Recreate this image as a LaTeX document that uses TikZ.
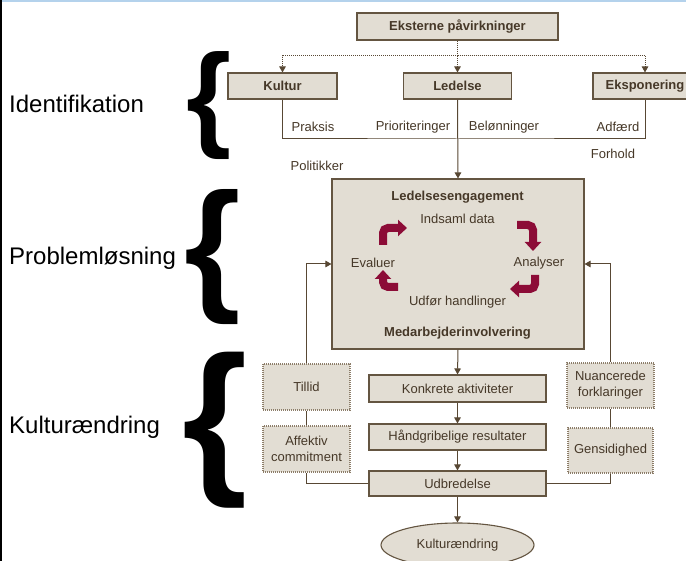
\documentclass[tikz,border=0pt]{standalone}
\usepackage{fontspec}
\usepackage{graphicx}
\setmainfont{Liberation Sans}
\usetikzlibrary{arrows.meta,shapes.geometric}
\definecolor{boxfill}{RGB}{226,221,211}
\definecolor{bordercol}{RGB}{100,85,65}
\definecolor{linecol}{RGB}{88,72,52}
\definecolor{txtcol}{RGB}{70,56,40}
\definecolor{dotcol}{RGB}{140,125,105}
\definecolor{redcol}{RGB}{140,12,55}
\definecolor{topblue}{RGB}{180,210,236}
\begin{document}
\begin{tikzpicture}[x=1pt,y=-1pt,
  bx/.style={draw=bordercol, line width=1.1pt, fill=boxfill, text=txtcol, inner sep=0pt, font=\fontsize{13}{16}\selectfont, align=center},
  bxb/.style={bx, font=\fontsize{13}{16}\selectfont\bfseries},
  dbx/.style={bx, draw=dotcol, dash pattern=on 1pt off 1pt},
  lbl/.style={text=txtcol, inner sep=0pt, font=\fontsize{13}{16}\selectfont},
  lblb/.style={lbl, font=\fontsize{13}{16}\selectfont\bfseries},
  big/.style={text=black, inner sep=0pt, anchor=west, font=\fontsize{24}{28}\selectfont},
  ln/.style={draw=linecol, line width=1pt},
  ar/.style={ln, -{Triangle[width=6.5pt,length=6pt]}},
  dln/.style={draw=linecol, line width=1pt, dash pattern=on 1pt off 1pt},
  dar/.style={dln, -{Triangle[width=6.5pt,length=6pt]}},
  redarr/.style={draw=redcol, line width=8pt, rounded corners=5pt, -{Triangle[width=16pt,length=9pt]}},
  bracenode/.style={inner sep=0pt, text=black, font=\bfseries}
]
\useasboundingbox (0,0) rectangle (686,561);
\clip (0,0) rectangle (686,561);
\fill[white] (0,0) rectangle (686,561);
\fill[black] (0,0) rectangle (2,561);
\fill[topblue] (2,0) rectangle (686,2.5);

% left labels and braces
\node[big] (tid) at (9,104) {Identifikation};
\node[big] (tpl) at (9,258) {Problemløsning};
\node[big] (tku) at (9,427) {Kulturændring};
\node[bracenode] (br1) at (209,106) {\resizebox*{!}{108pt}{\{}};
\node[bracenode] (br2) at (213,257) {\resizebox*{!}{135pt}{\{}};
\node[bracenode] (br3) at (215,430) {\resizebox*{!}{156pt}{\{}};

% top boxes
\node[bxb, minimum width=201pt, minimum height=27pt] (ext) at (457.5,26.5) {Eksterne påvirkninger};
\node[bxb, minimum width=109pt, minimum height=26pt] (kultur) at (282.5,86) {Kultur};
\node[bxb, minimum width=108pt, minimum height=26pt] (ledelse) at (457.5,86) {Ledelse};
\node[bxb, minimum width=104pt, minimum height=26pt] (ekspo) at (645,86) {Eksponering};

% central box
\node[bx, minimum width=252pt, minimum height=170pt] (lbox) at (458,264) {};
\node[lblb] (leng) at (457.5,197) {Ledelsesengagement};
\node[lbl] (inds) at (457.5,219) {Indsaml data};
\node[lbl] (eval) at (373,263) {Evaluer};
\node[lbl] (anal) at (539,263) {Analyser};
\node[lbl] (udf) at (457.5,302) {Udfør handlinger};
\node[lblb] (medarb) at (457.5,333) {Medarbejderinvolvering};

% lower boxes
\node[dbx, minimum width=87pt, minimum height=46pt] (tillid) at (306.5,387) {Tillid};
\node[dbx, minimum width=87pt, minimum height=46pt] (affektiv) at (306.5,449) {Affektiv\\commitment};
\node[bx, minimum width=177pt, minimum height=27pt] (konkrete) at (457.5,388.5) {Konkrete aktiviteter};
\node[bx, minimum width=177pt, minimum height=26pt] (haand) at (457.5,437) {Håndgribelige resultater};
\node[bx, minimum width=177pt, minimum height=25pt] (udbr) at (457.5,483.5) {Udbredelse};
\node[dbx, minimum width=87pt, minimum height=45pt] (nuanc) at (610.5,385.5) {Nuancerede\\forklaringer};
\node[dbx, minimum width=85pt, minimum height=45pt] (gensid) at (610.5,450.5) {Gensidighed};
\node[bx, ellipse, minimum width=153pt, minimum height=44pt] (kult) at (457.5,545) {Kulturændring};

% labels under top boxes
\node[lbl] (praksis) at (313,127) {Praksis};
\node[lbl] (prior) at (413,127) {Prioriteringer};
\node[lbl] (beloen) at (504,127) {Belønninger};
\node[lbl] (adf) at (618,127) {Adfærd};
\node[lbl] (polit) at (317,166) {Politikker};
\node[lbl] (forh) at (613,154) {Forhold};

% dotted distribution
\coordinate (dj) at (457.5,56);
\draw[dln] (ext.south) -- (dj);
\draw[dar] (dj) -| (kultur.north);
\draw[dar] (dj) -| (ekspo.north);
\draw[dar] (dj) -- (ledelse.north);

% solid top connections
\coordinate (jn) at (457.5,139);
\draw[ln] (kultur.south) |- (jn) -| (ekspo.south);
\draw[ar] (ledelse.south) -- (lbox.north);

% central flow
\draw[ar] (lbox.south) -- (konkrete.north);
\draw[ar] (konkrete.south) -- (haand.north);
\draw[ar] (haand.south) -- (udbr.north);
\draw[ar] (udbr.south) -- (kult.north);

% feedback loops
\draw[ln] (udbr.west) -| (affektiv.south);
\draw[ln] (affektiv.north) -- (tillid.south);
\draw[ar] (tillid.north) |- (lbox.west);
\draw[ln] (udbr.east) -| (gensid.south);
\draw[ln] (gensid.north) -- (nuanc.south);
\draw[ar] (nuanc.north) |- (lbox.east);

% red cycle arrows
\draw[redarr] (383,245) -- (383,228) -- (407,228);
\draw[redarr] (517,225) -- (533,225) -- (533,251);
\draw[redarr] (535,275) -- (535,289) -- (510,289);
\draw[redarr] (398,287) -- (383,287) -- (383,270);
\end{tikzpicture}
\end{document}
